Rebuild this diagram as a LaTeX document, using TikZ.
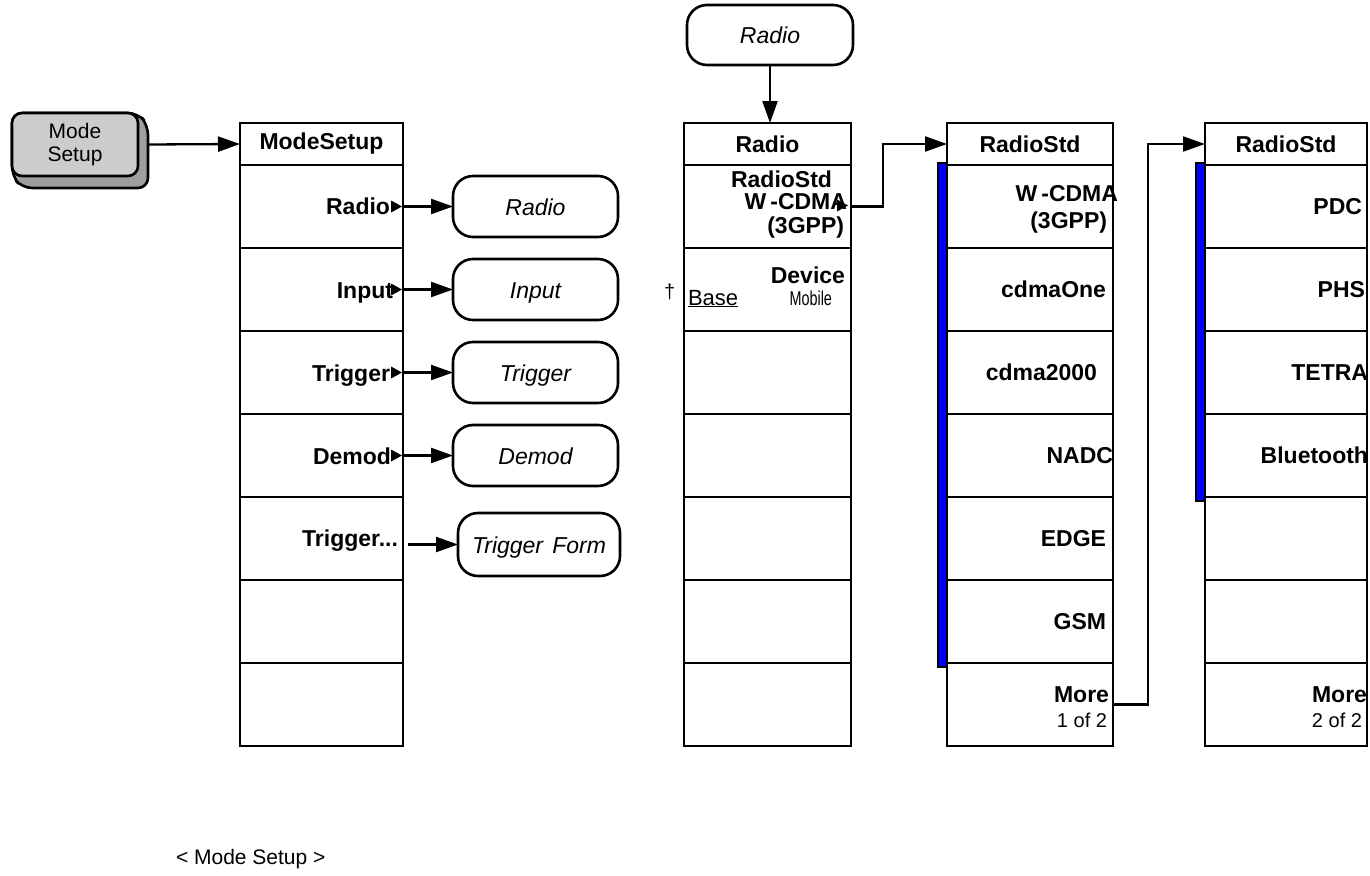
\documentclass[tikz,border=0pt]{standalone}
\usepackage{fontspec}
\usepackage{graphicx}
\setmainfont{Liberation Sans}
\usetikzlibrary{arrows.meta}

% small right-pointing marker at the right edge of a soft key
\newcommand\keymark[1]{\fill (#1) ++(-1,0) -- ++(-11,-6) -- ++(0,12) -- cycle;}

\begin{document}
\begin{tikzpicture}[x=1pt,y=-1pt,
  every node/.style={inner sep=0pt,outer sep=0pt},
  menucell/.style={draw=black,line width=2.6pt,fill=white,minimum height=83pt},
  headcell/.style={menucell,minimum height=42pt,font=\bfseries\fontsize{23}{27}\selectfont},
  lbl/.style={anchor=base east,font=\bfseries\fontsize{23}{27}\selectfont},
  sub/.style={anchor=base east,font=\fontsize{20}{23}\selectfont},
  menuform/.style={draw=black,line width=2.6pt,fill=white,rounded corners=20pt,
    minimum width=165pt,minimum height=61pt,text height=17pt,text depth=0pt,
    font=\itshape\fontsize{23}{27}\selectfont},
  arr/.style={line width=2.3pt,-{Triangle[length=22pt,width=15pt]}},
  selbar/.style={draw=black,line width=2pt,fill=blue},
  hardkey/.style={draw=black,line width=2.6pt,fill=black!20,rounded corners=10pt,
    minimum width=126pt,minimum height=63pt,align=center,font=\fontsize{21}{23}\selectfont},
  keyside/.style={draw=black,line width=2.6pt,fill=black!38,rounded corners=10pt}
]
\useasboundingbox (0,0) rectangle (1370,875);

% front-panel hard key: extruded side first, then the key face
\draw[keyside] (12,113) -- (138,113) -- (148,125) -- (148,188) -- (22,188) -- (12,176) -- cycle;
\node[hardkey] (key) at (75,144.5) {Mode\\Setup};

% ---- ModeSetup menu ----
\node[headcell,minimum width=163pt] (ms0) at (321.5,144) {ModeSetup};
\foreach \i in {1,...,7}
  \node[menucell,minimum width=163pt] (ms\i) at (321.5,{123.5+83*\i}) {};
\node[lbl] (ms1-t) at (390,214.5) {Radio};
\node[lbl] (ms2-t) at (393,298) {Input};
\node[lbl] (ms3-t) at (390,381) {Trigger};
\node[lbl] (ms4-t) at (391,464) {Demod};
\node[lbl] (ms5-t) at (398,546) {Trigger...};
\foreach \i in {1,...,4} {\keymark{ms\i.east}}

% ---- sub-menu forms ----
\node[menuform] (ov1) at (535.5,206.5) {Radio};
\node[menuform] (ov2) at (535.5,289.5) {Input};
\node[menuform] (ov3) at (535.5,372.5) {Trigger};
\node[menuform] (ov4) at (535.5,455.5) {Demod};
\node[menuform,minimum width=162pt,minimum height=63pt] (ov5) at (539,544.5) {Trigger\hspace{0.4em}Form};
\node[menuform,minimum width=166pt,minimum height=60pt] (ovtop) at (770,35) {Radio};

% ---- Radio menu ----
\node[headcell,minimum width=167pt] (rd0) at (767.5,144) {Radio};
\foreach \i in {1,...,7}
  \node[menucell,minimum width=167pt] (rd\i) at (767.5,{123.5+83*\i}) {};
\node[lbl] (rd1-a) at (832,187) {RadioStd};
\node[lbl] (rd1-b) at (847,209) {W\kern4pt-CDMA};
\node[lbl] (rd1-c) at (844,233) {(3GPP)};
\fill (rd1.east) ++(-3,-1) -- ++(-11,-6) -- ++(0,12) -- cycle;
\node[lbl] (rd2-a) at (845,283) {Device};
\node[sub] (rd2-b) at (832,305) {\scalebox{0.72}[1]{Mobile}};
\node[sub,anchor=base west,font=\fontsize{22}{25}\selectfont] (rd2-c) at (688,305) {\underline{Base}};
\node[sub,anchor=base west] (rd2-d) at (664,298) {†};

% ---- RadioStd menu, page 1 ----
\node[headcell,minimum width=166pt] (rs0) at (1030,144) {RadioStd};
\foreach \i in {1,...,7}
  \node[menucell,minimum width=166pt] (rs\i) at (1030,{123.5+83*\i}) {};
\draw[selbar] (938,163) rectangle (947,667);
\node[lbl] (rs1-a) at (1118,201) {W\kern4pt-CDMA};
\node[lbl] (rs1-b) at (1107,228) {(3GPP)};
\node[lbl] (rs2-t) at (1106,297) {cdmaOne};
\node[lbl] (rs3-t) at (1097,380) {cdma2000};
\node[lbl] (rs4-t) at (1113,463) {NADC};
\node[lbl] (rs5-t) at (1106,546) {EDGE};
\node[lbl] (rs6-t) at (1106,629) {GSM};
\node[lbl] (rs7-a) at (1109,702) {More};
\node[sub] (rs7-b) at (1107,727) {1 of 2};

% ---- RadioStd menu, page 2 ----
\node[headcell,minimum width=162pt] (rt0) at (1286,144) {RadioStd};
\foreach \i in {1,...,7}
  \node[menucell,minimum width=162pt] (rt\i) at (1286,{123.5+83*\i}) {};
\draw[selbar] (1196,163) rectangle (1205,501);
\node[lbl] (rt1-t) at (1362,214) {PDC};
\node[lbl] (rt2-t) at (1365,297) {PHS};
\node[lbl] (rt3-t) at (1368,380) {TETRA};
\node[lbl] (rt4-t) at (1368,463) {Bluetooth};
\node[lbl] (rt7-a) at (1367,702) {More};
\node[sub] (rt7-b) at (1362,727) {2 of 2};

% ---- connectors ----
\draw[arr] ([xshift=10pt]key.east) -- (ms0.west);
\foreach \i in {1,...,4} {\draw[arr] (ms\i.east) -- (ov\i.west);}
\coordinate (ms5-out) at (408,544.5);
\draw[arr] (ms5-out) -- (ov5.west);
\draw[arr] (ovtop.south) -- (ovtop.south |- rd0.north);
\draw[arr] (rd1.east) -- ++(32,0) |- (rs0.west);
\draw[arr] (rs7.east) -- ++(35,0) |- (rt0.west);

% caption
\node[anchor=base west,font=\fontsize{21}{24}\selectfont] (cap) at (176,864) {< Mode Setup >};
\end{tikzpicture}
\end{document}
